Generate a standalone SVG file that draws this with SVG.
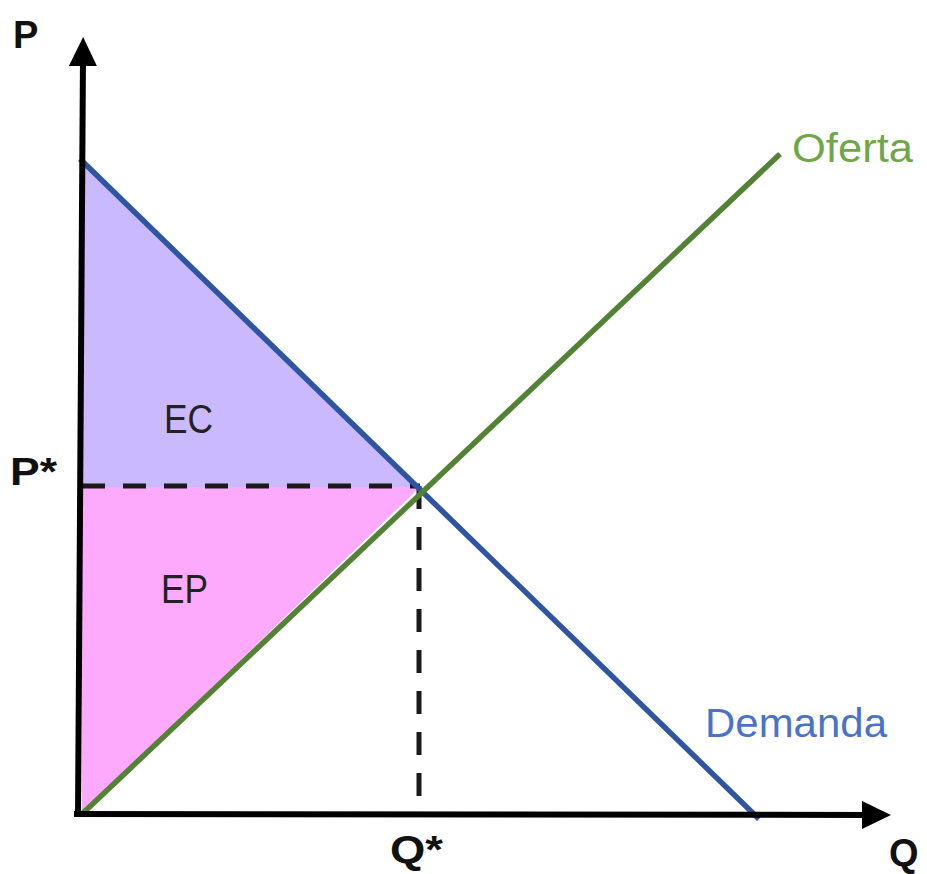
<svg xmlns="http://www.w3.org/2000/svg" width="927" height="874" viewBox="0 0 927 874">
  <defs>
    <marker id="arrow" markerUnits="userSpaceOnUse" markerWidth="30" markerHeight="30" viewBox="0 0 30 30" refX="10" refY="14" orient="auto">
      <path d="M0,0 L29,14 L0,28 Z" fill="#000"/>
    </marker>
    <style>
      .axis { stroke:#000; stroke-width:6; fill:none; }
      .dash { stroke:#1a1a1a; stroke-width:5; stroke-dasharray:23 18; fill:none; }
      .curve { stroke-width:5.5; fill:none; stroke-linecap:butt; }
      .bold { font-family:"Liberation Sans", Arial, sans-serif; font-weight:bold; font-size:38px; fill:#111; }
      .area { font-family:"Liberation Sans", Arial, sans-serif; font-size:40px; fill:#222; }
      .curvelbl { font-family:"Liberation Sans", Arial, sans-serif; font-size:41px; }
    </style>
  </defs>
  <rect width="927" height="874" fill="#fff"/>

  <g id="surplus-areas">
    <polygon id="EC-area" points="82,162 82,487 420,487" fill="#cbb9fd"/>
    <polygon id="EP-area" points="82,487 420,487 82,813" fill="#fdaafd"/>
  </g>

  <g id="guides">
    <line class="dash" x1="82" y1="486" x2="420" y2="486"/>
    <line class="dash" x1="419" y1="486" x2="419" y2="812"/>
  </g>

  <g id="curves">
    <line id="demanda-line" class="curve" stroke="#2f55a0" x1="80" y1="159" x2="759" y2="819"/>
    <line id="oferta-line" class="curve" stroke="#548235" x1="82" y1="814" x2="780" y2="154"/>
  </g>

  <g id="axes">
    <line class="axis" x1="78" y1="817" x2="83" y2="56" marker-end="url(#arrow)"/>
    <line class="axis" x1="74" y1="814" x2="872" y2="815" marker-end="url(#arrow)"/>
  </g>

  <g id="labels">
    <text class="bold" x="13" y="48">P</text>
    <text class="bold" x="10" y="485" textLength="47" lengthAdjust="spacingAndGlyphs">P*</text>
    <text class="bold" x="390" y="863" textLength="53" lengthAdjust="spacingAndGlyphs">Q*</text>
    <text class="bold" x="889" y="866">Q</text>
    <text class="area" x="164" y="433" textLength="49" lengthAdjust="spacingAndGlyphs">EC</text>
    <text class="area" x="161" y="603" textLength="47" lengthAdjust="spacingAndGlyphs">EP</text>
    <text class="curvelbl" x="792" y="162" fill="#70a548" textLength="121" lengthAdjust="spacingAndGlyphs">Oferta</text>
    <text class="curvelbl" x="705" y="737" fill="#4a72c8" textLength="182" lengthAdjust="spacingAndGlyphs">Demanda</text>
  </g>
</svg>
